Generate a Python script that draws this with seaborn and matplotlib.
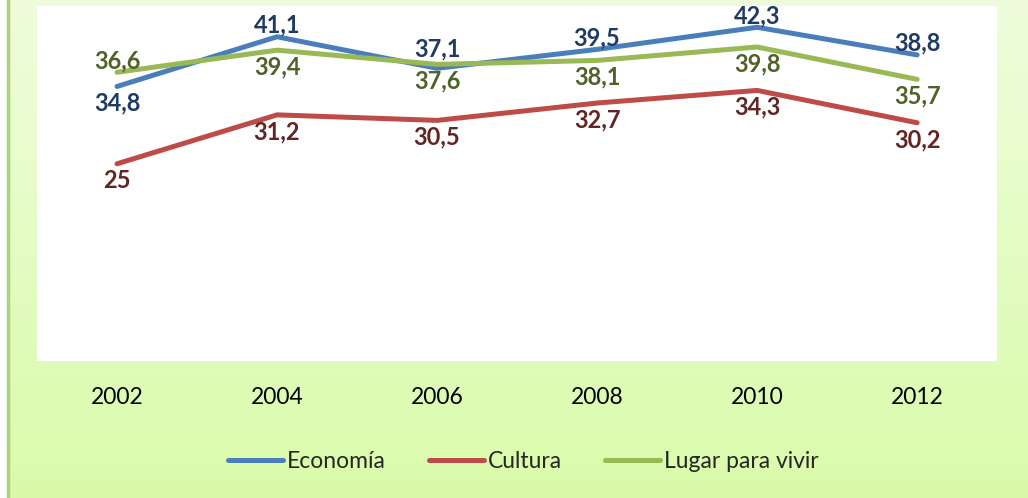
import numpy as np
import pandas as pd
import seaborn as sns
import matplotlib.pyplot as plt

# data
years = ["2002", "2004", "2006", "2008", "2010", "2012"]
economia = [34.8, 41.1, 37.1, 39.5, 42.3, 38.8]
cultura = [25, 31.2, 30.5, 32.7, 34.3, 30.2]
lugar = [36.6, 39.4, 37.6, 38.1, 39.8, 35.7]
series_names = ["Economía", "Cultura", "Lugar para vivir"]

# where each value label sits (above / below the point)
pos_economia = ["below", "above", "high", "above", "above", "above"]
pos_cultura = ["below"] * 6
pos_lugar = ["above", "below", "below", "below", "below", "below"]

line_colors = ["#4A7EBB", "#BE4B48", "#98B954"]
label_colors = ["#1F3B64", "#632523", "#4F6228"]

df = pd.DataFrame({
    "year": years * 3,
    "value": economia + cultura + lugar,
    "serie": [s for s in series_names for _ in years],
})

sns.set_style("white")
plt.rcParams["font.family"] = ["Lato", "DejaVu Sans"]

fig = plt.figure(figsize=(10.28, 4.98), dpi=100)

# light green gradient background
bg = fig.add_axes([0, 0, 1, 1], zorder=-5)
grad = np.linspace(0, 1, 256).reshape(-1, 1)
top = np.array([0.937, 0.992, 0.863])
bottom = np.array([0.855, 0.984, 0.667])
img = top + (bottom - top) * grad[:, :, None]
bg.imshow(img, aspect="auto", extent=[0, 1, 0, 1])
bg.set_xlim(0, 1)
bg.set_ylim(0, 1)
bg.axvline(0.0075, color="#A9D47A", lw=2.5)
bg.axvspan(0, 0.006, color="white")
bg.axis("off")

ax = fig.add_axes([0.036, 0.275, 0.934, 0.713])
ax.set_facecolor("white")
sns.lineplot(data=df, x="year", y="value", hue="serie", palette=line_colors,
             linewidth=3.6, ax=ax, legend=False, sort=False)
for ln in ax.get_lines():
    ln.set_solid_capstyle("round")
    ln.set_solid_joinstyle("miter")

offsets = {"above": 8.5, "high": 14, "below": -12}
all_vals = [economia, cultura, lugar]
all_pos = [pos_economia, pos_cultura, pos_lugar]
for vals, poss, col in zip(all_vals, all_pos, label_colors):
    for i, (v, p) in enumerate(zip(vals, poss)):
        txt = f"{v:g}".replace(".", ",")
        ax.annotate(txt, (i, v), xytext=(0, offsets[p]), textcoords="offset points",
                    ha="center", va="center", fontsize=17, fontweight="bold",
                    color=col)

ax.set_xlim(-0.5, 5.5)
ax.set_ylim(0, 45)
ax.set_yticks([])
ax.set_xlabel("")
ax.set_ylabel("")
ax.tick_params(axis="x", length=0, pad=19, labelsize=16.5, labelcolor="black")
for sp in ax.spines.values():
    sp.set_visible(False)

handles = [plt.Line2D([], [], color=c, lw=3.6, solid_capstyle="round") for c in line_colors]
fig.legend(handles, series_names, loc="center", bbox_to_anchor=(0.509, 0.074),
           ncol=3, frameon=False, fontsize=16.5, handlelength=2.4,
           handletextpad=0.15, columnspacing=1.9)

plt.savefig("out.png", dpi=100)
